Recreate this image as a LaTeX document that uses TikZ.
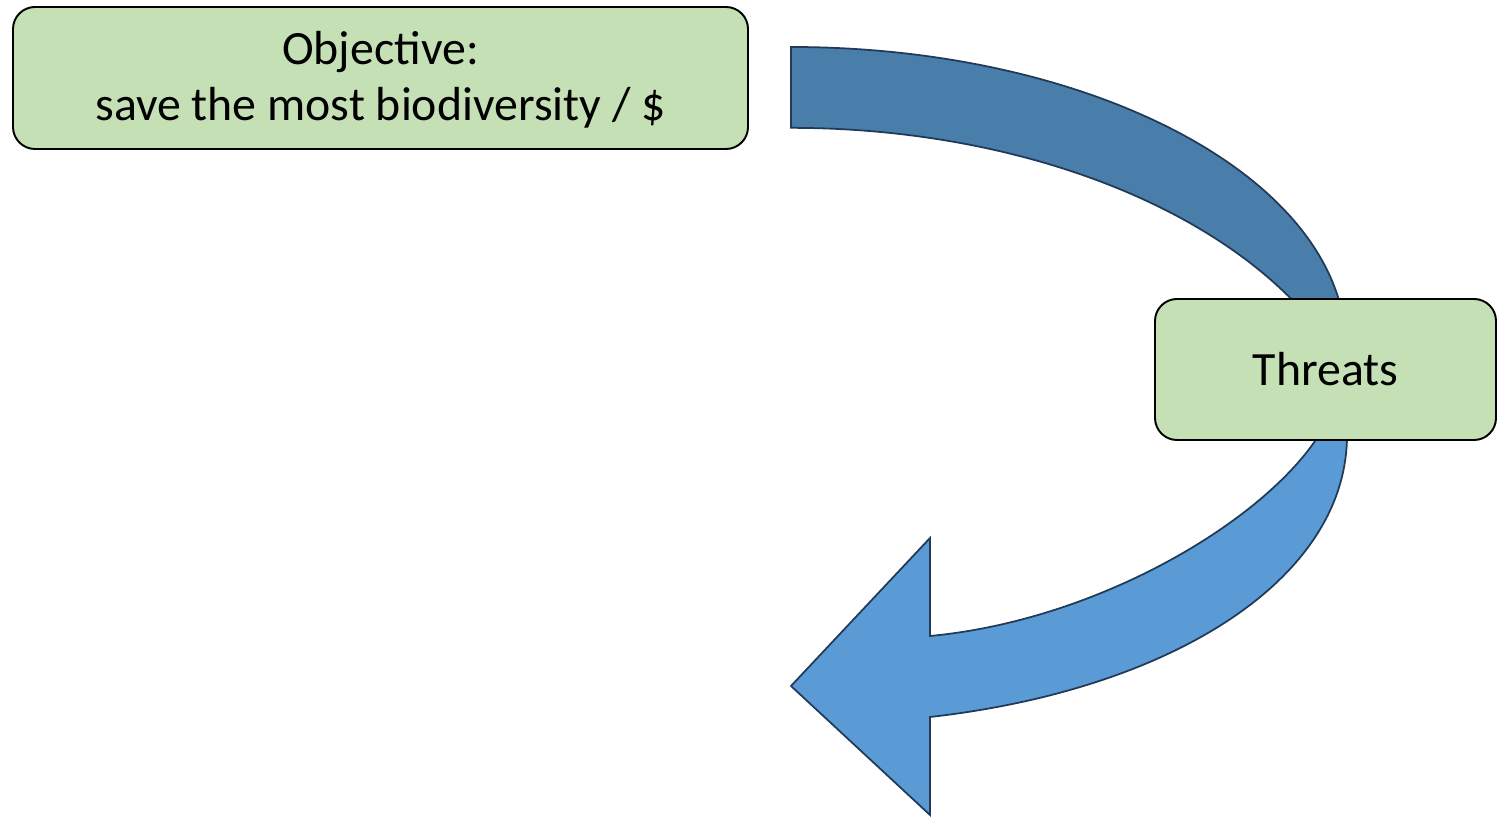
\documentclass[tikz,border=0pt]{standalone}
\usepackage{fontspec}
\setmainfont{Carlito}
\definecolor{boxgreen}{RGB}{197,224,180}
\definecolor{bandtop}{RGB}{73,125,170}
\definecolor{bandlow}{RGB}{91,155,213}
\definecolor{bandedge}{RGB}{33,58,88}
\newlength{\unitlen}
\setlength{\unitlen}{0.02cm}
\tikzset{
  goalbox/.style={draw=black, line width=1.1pt, fill=boxgreen, rounded corners=22\unitlen,
    align=center, inner sep=0pt, font=\fontsize{27.2}{32}\selectfont},
  band/.style={draw=bandedge, line width=1pt, line join=miter},
}
\begin{document}
\begin{tikzpicture}[x=0.02cm, y=0.02cm]
  \useasboundingbox (0,0) rectangle (1503,820);

  % upper curved band (objective -> threats)
  \coordinate (uo) at (791,773);
  \coordinate (ui) at (1298,514);
  \fill[bandtop] (uo) arc[start angle=90, end angle=8, x radius=555, y radius=301]
    -- (ui) arc[start angle=29.6, end angle=90, x radius=583, y radius=352] -- cycle;
  \draw[band] (uo) arc[start angle=90, end angle=8, x radius=555, y radius=301]
    -- (ui) arc[start angle=29.6, end angle=90, x radius=583, y radius=352] -- cycle;

  % lower curved arrow (threats -> back left)
  \coordinate (lo) at (1347,385);
  \coordinate (li) at (1319,385);
  \coordinate (tip) at (791,134);
  \draw[band, fill=bandlow] (lo) .. controls (1347,240) and (1170,130) .. (930,103)
    -- (930,5) -- (tip) -- (930,282) -- (930,184)
    .. controls (1100,200) and (1265,300) .. (li) -- cycle;

  % boxes
  \node[goalbox, minimum width=735\unitlen, minimum height=142\unitlen] (obj) at (380.5,742) {};
  \node[align=center, inner sep=0pt, font=\fontsize{27.2}{32}\selectfont] (objtext) at (380.5,740)
    {Objective:\\save the most biodiversity / \$};
  \node[goalbox, minimum width=341\unitlen, minimum height=141\unitlen] (thr) at (1325.5,450.5)
    {Threats};
\end{tikzpicture}
\end{document}
